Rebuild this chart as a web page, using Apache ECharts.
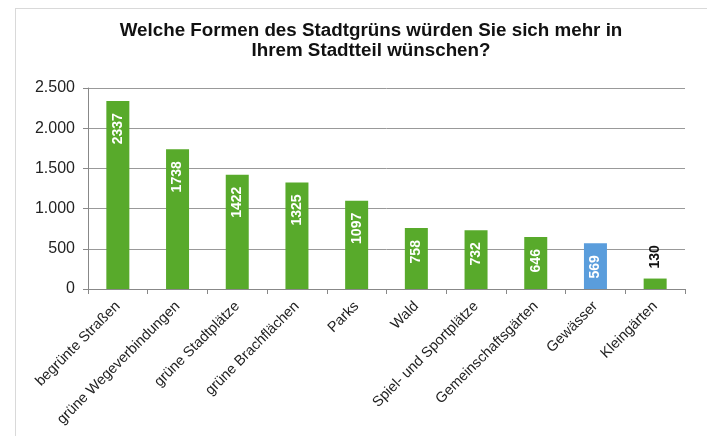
<!DOCTYPE html>
<html lang="de">
<head>
    <meta charset="UTF-8">
    <title>Stadtgrün</title>
    <script src="https://cdn.jsdelivr.net/npm/echarts@6/dist/echarts.min.js"></script>
    <style>
        body { margin: 0; background: #fff; }
        #frame {
            position: absolute; left: 15px; top: 8px;
            width: 720px; height: 450px;
            border: 1px solid #d9d9d9;
        }
        #chart { position: absolute; left: 0; top: 0; width: 707px; height: 436px; }
    </style>
</head>
<body>
    <div id="frame"></div>
    <div id="chart"></div>
    <script>
        const categories = ['begrünte Straßen', 'grüne Wegeverbindungen', 'grüne Stadtplätze', 'grüne Brachflächen',
            'Parks', 'Wald', 'Spiel- und Sportplätze', 'Gemeinschaftsgärten', 'Gewässer', 'Kleingärten']
        const values = [2337, 1738, 1422, 1325, 1097, 758, 732, 646, 569, 130]
        const yTicks = [0, 500, 1000, 1500, 2000, 2500]

        const green = '#58aa2b'
        const blue = '#5a9ddc'

        const data = values.map((v, i) => {
            const item = { value: v }
            if (categories[i] === 'Gewässer') item.itemStyle = { color: blue }
            if (v < 300) {
                item.label = {
                    position: 'top', color: '#111', align: 'left', verticalAlign: 'middle',
                    distance: 10
                }
            }
            return item
        })

        const chart = echarts.init(document.getElementById('chart'))
        chart.setOption({
            animation: false,
            title: {
                text: 'Welche Formen des Stadtgrüns würden Sie sich mehr in\nIhrem Stadtteil wünschen?',
                left: 366, top: 16, textAlign: 'center',
                textStyle: { fontFamily: 'Liberation Sans', fontSize: 18.8, fontWeight: 'bold', color: '#111', lineHeight: 20 }
            },
            grid: { left: 88, right: 22, top: 88, bottom: 147 },
            xAxis: {
                type: 'category',
                data: categories,
                axisLine: { lineStyle: { color: '#888' } },
                axisTick: { show: true, length: 5, lineStyle: { color: '#888' } },
                axisLabel: {
                    rotate: 45, interval: 0, margin: 15,
                    fontFamily: 'Liberation Sans', fontSize: 14.5, color: '#222'
                }
            },
            yAxis: {
                type: 'value',
                min: yTicks[0], max: yTicks[yTicks.length - 1], interval: 500,
                axisLine: { show: true, lineStyle: { color: '#888' } },
                axisTick: { show: true, length: 5, lineStyle: { color: '#888' } },
                splitLine: { lineStyle: { color: '#999' } },
                axisLabel: {
                    margin: 13, fontFamily: 'Liberation Sans', fontSize: 16, color: '#222',
                    formatter: v => v.toLocaleString('de-DE')
                }
            },
            series: [{
                type: 'bar',
                data: data,
                barWidth: 23,
                itemStyle: { color: green },
                label: {
                    show: true, position: 'insideTop', rotate: 90,
                    align: 'right', verticalAlign: 'middle', distance: 12,
                    color: '#fff', fontWeight: 'bold', fontSize: 14, fontFamily: 'Liberation Sans'
                }
            }]
        })
    </script>
</body>
</html>
